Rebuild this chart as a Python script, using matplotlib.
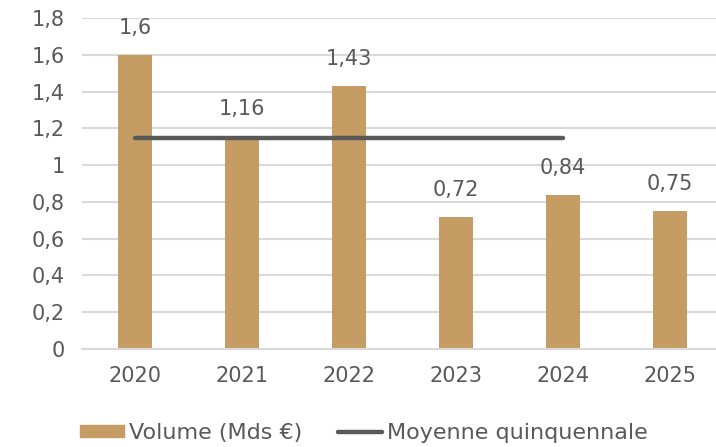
import matplotlib
matplotlib.use("Agg")
import matplotlib.pyplot as plt
from matplotlib.patches import Patch
from matplotlib.lines import Line2D

years = ["2020", "2021", "2022", "2023", "2024", "2025"]
volume = [1.6, 1.16, 1.43, 0.72, 0.84, 0.75]
moyenne_years = ["2020", "2021", "2022", "2023", "2024"]
moyenne = [1.15, 1.15, 1.15, 1.15, 1.15]
y_ticks = [0, 0.2, 0.4, 0.6, 0.8, 1.0, 1.2, 1.4, 1.6, 1.8]

BAR = "#C69C65"
LINE = "#595959"
TXT = "#595959"
GRID = "#D9D9D9"
FS = 15

plt.rcParams["font.family"] = ["DejaVu Sans"]


def fr(v):
    s = f"{v:g}"
    return s.replace(".", ",")


fig = plt.figure(figsize=(7.16, 4.47), dpi=100)
ax = fig.add_axes([81.5 / 716, 98 / 447, 642 / 716, 331 / 447])

x = list(range(len(years)))
ax.bar(x, volume, width=0.32, color=BAR, zorder=2)
ax.plot(range(len(moyenne_years)), moyenne, color=LINE, lw=3.2,
        solid_capstyle="round", zorder=3)

for xi, v in zip(x, volume):
    ax.annotate(fr(v), (xi, v), xytext=(0, 12), textcoords="offset points",
                ha="center", va="bottom", fontsize=FS, color=TXT)

ax.set_xlim(-0.5, len(years) - 0.5)
ax.set_ylim(0, 1.8)
ax.set_yticks(y_ticks)
ax.set_yticklabels([fr(t) for t in y_ticks])
ax.set_xticks(x)
ax.set_xticklabels(years)
ax.tick_params(axis="both", length=0, labelsize=FS, labelcolor=TXT)
ax.tick_params(axis="x", pad=12)
ax.tick_params(axis="y", pad=12)
ax.grid(axis="y", color=GRID, lw=1.5, zorder=0)
ax.set_axisbelow(True)
for s in ["top", "right", "left"]:
    ax.spines[s].set_visible(False)
ax.spines["bottom"].set_color(GRID)
ax.spines["bottom"].set_linewidth(1.5)

handles = [Patch(color=BAR, label="Volume (Mds €)"),
           Line2D([], [], color=LINE, lw=3.2, solid_capstyle="round",
                  label="Moyenne quinquennale")]
fig.legend(handles=handles, loc="center left", bbox_to_anchor=(80 / 716, 1 - 433 / 447),
           ncol=2, frameon=False, fontsize=16, labelcolor=TXT,
           handlelength=2.0, handletextpad=0.2, columnspacing=1.6,
           handleheight=0.45, borderpad=0, borderaxespad=0)

fig.savefig("out.png", dpi=100)
